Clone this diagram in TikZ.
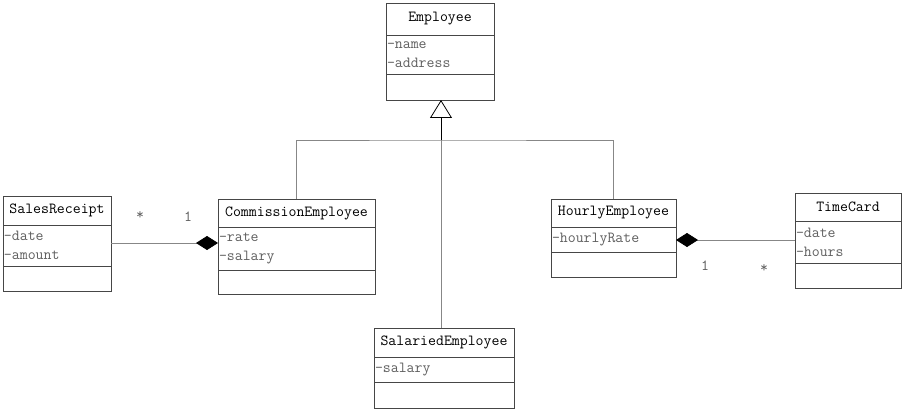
\documentclass[tikz,border=0pt]{standalone}
\usepackage{fontspec}
\usetikzlibrary{positioning, arrows.meta}
\definecolor{edge}{RGB}{70, 70, 70}
\definecolor{wire}{RGB}{135, 135, 135}
\definecolor{attr}{RGB}{95, 95, 95}

\tikzset{
  head/.style={draw=edge, outer sep=0, inner sep=0, align=center,
    font=\ttfamily\fontsize{15.4}{19}\selectfont},
  body/.style={draw=edge, outer sep=0, inner xsep=1pt, inner ysep=0,
    align=left, text=attr, font=\ttfamily\fontsize{15.4}{19}\selectfont},
  mult/.style={text=attr, inner sep=0, font=\ttfamily\fontsize{15.4}{19}\selectfont},
  comp/.style={wire, {Diamond[length=22pt, width=14pt, color=black, fill=black]}-}
}

\begin{document}
\begin{tikzpicture}[x=1pt, y=-1pt, line width=0.8pt]
  \useasboundingbox[fill=white] (0, 0) rectangle (906, 412);

  % Employee
  \node[head, anchor=north west, minimum width=108pt, minimum height=32pt] (emp) at (386, 3) {Employee};
  \node[body, below=0pt of emp, text width=106pt, minimum height=39pt] (empattr) {-name\\-address};
  \node[body, below=0pt of empattr, text width=106pt, minimum height=26pt] (empops) {};

  % SalesReceipt
  \node[head, anchor=north west, minimum width=108pt, minimum height=29pt] (sales) at (3, 196) {SalesReceipt};
  \node[body, below=0pt of sales, text width=106pt, minimum height=41pt] (salesattr) {-date\\-amount};
  \node[body, below=0pt of salesattr, text width=106pt, minimum height=25pt] (salesops) {};

  % CommissionEmployee
  \node[head, anchor=north west, minimum width=157pt, minimum height=28pt] (comm) at (218, 199) {CommissionEmployee};
  \node[body, below=0pt of comm, text width=155pt, minimum height=43pt] (commattr) {-rate\\-salary};
  \node[body, below=0pt of commattr, text width=155pt, minimum height=24pt] (commops) {};

  % HourlyEmployee
  \node[head, anchor=north west, minimum width=125pt, minimum height=28pt] (hourly) at (551, 199) {HourlyEmployee};
  \node[body, below=0pt of hourly, text width=123pt, minimum height=25pt] (hourlyattr) {-hourlyRate};
  \node[body, below=0pt of hourlyattr, text width=123pt, minimum height=25pt] (hourlyops) {};

  % TimeCard
  \node[head, anchor=north west, minimum width=106pt, minimum height=28pt] (card) at (795, 193) {TimeCard};
  \node[body, below=0pt of card, text width=104pt, minimum height=42pt] (cardattr) {-date\\-hours};
  \node[body, below=0pt of cardattr, text width=104pt, minimum height=25pt] (cardops) {};

  % SalariedEmployee
  \node[head, anchor=north west, minimum width=140pt, minimum height=29pt] (salaried) at (374, 328) {SalariedEmployee};
  \node[body, below=0pt of salaried, text width=138pt, minimum height=25pt] (salariedattr) {-salary};
  \node[body, below=0pt of salariedattr, text width=138pt, minimum height=26pt] (salariedops) {};

  % generalization
  \coordinate (bus) at (441, 140);
  \draw[wire] (comm.north) |- (bus) -| (hourly.north);
  \draw[wire] (salaried.north -| bus) -- (bus);
  \draw[black, -{Triangle[open, length=18pt, width=22pt]}] (bus) -- (empops.south -| bus);

  % composition
  \draw[comp] (commattr.west |- 0, 243) -- (salesattr.east |- 0, 243);
  \draw[comp] (hourlyattr.east |- 0, 240) -- (cardattr.west |- 0, 240);

  \node[mult] (manySales) at (140, 215) {*};
  \node[mult] (oneComm) at (188, 217) {1};
  \node[mult] (oneHourly) at (705, 266) {1};
  \node[mult] (manyCard) at (764, 268) {*};
\end{tikzpicture}
\end{document}
